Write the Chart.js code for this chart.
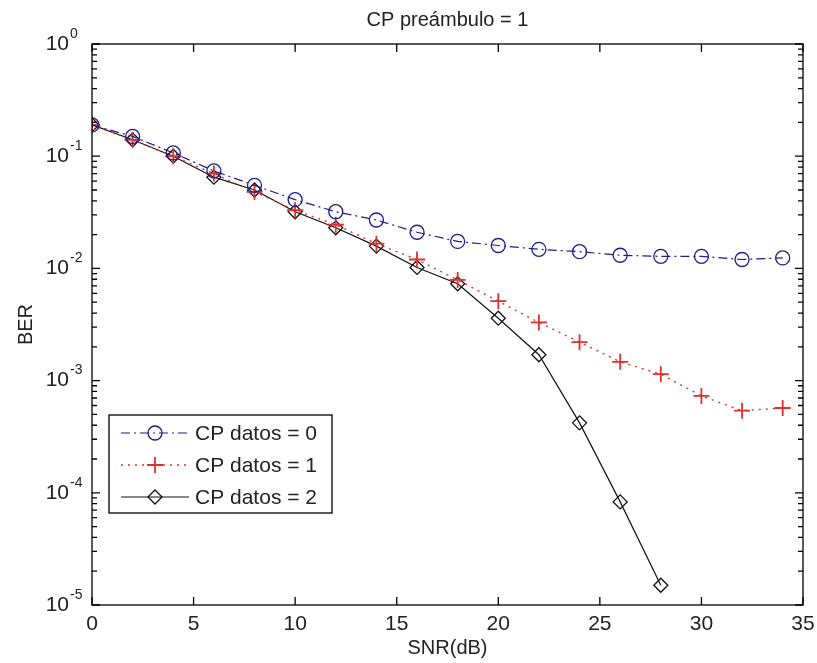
<!DOCTYPE html>
<html>
<head>
<meta charset="utf-8">
<script src="https://cdn.jsdelivr.net/npm/chart.js@4"></script>
<style>
  body { margin: 0; background: #fff; }
  #wrap { width: 817px; height: 663px; }
</style>
</head>
<body>
<div id="wrap"><canvas id="berChart"></canvas></div>
<script>
const snr = [0, 2, 4, 6, 8, 10, 12, 14, 16, 18, 20, 22, 24, 26, 28, 30, 32, 34];
const berCp0 = [0.19, 0.15, 0.107, 0.074, 0.055, 0.041, 0.032, 0.027, 0.021, 0.0174, 0.016, 0.0148, 0.0141, 0.0131, 0.0128, 0.0128, 0.0120, 0.0124];
const berCp1 = [0.19, 0.14, 0.10, 0.070, 0.048, 0.033, 0.0245, 0.0166, 0.012, 0.0079, 0.0051, 0.0033, 0.0022, 0.00147, 0.00114, 0.00073, 0.00054, 0.00057];
const berCp2 = [0.19, 0.14, 0.10, 0.065, 0.050, 0.032, 0.023, 0.0158, 0.0102, 0.0073, 0.0036, 0.0017, 0.00042, 0.000083, 0.000015];
const xTicks = [0, 5, 10, 15, 20, 25, 30, 35];
const yExps = [0, -1, -2, -3, -4, -5];
const legendLabels = ["CP datos = 0", "CP datos = 1", "CP datos = 2"];

const font = "Liberation Sans, Arial, sans-serif";

function pts(ys) {
  return ys.map((y, i) => ({ x: snr[i], y: y }));
}

// MATLAB-like box, inward ticks, labels and legend
const matlabAxes = {
  id: "matlabAxes",
  afterDraw(chart) {
    const ctx = chart.ctx;
    const xs = chart.scales.x, ys = chart.scales.y;
    const a = chart.chartArea;
    ctx.save();
    ctx.strokeStyle = "#000";
    ctx.lineWidth = 1.3;
    ctx.strokeRect(a.left, a.top, a.right - a.left, a.bottom - a.top);

    // x ticks
    ctx.beginPath();
    xTicks.forEach(v => {
      const px = xs.getPixelForValue(v);
      ctx.moveTo(px, a.bottom); ctx.lineTo(px, a.bottom - 8);
      ctx.moveTo(px, a.top); ctx.lineTo(px, a.top + 8);
    });
    // y ticks (major + minor)
    yExps.forEach(e => {
      const py = ys.getPixelForValue(Math.pow(10, e));
      ctx.moveTo(a.left, py); ctx.lineTo(a.left + 8, py);
      ctx.moveTo(a.right, py); ctx.lineTo(a.right - 8, py);
      if (e > -5) {
        for (let m = 2; m <= 9; m++) {
          const pm = ys.getPixelForValue(m * Math.pow(10, e - 1));
          ctx.moveTo(a.left, pm); ctx.lineTo(a.left + 5, pm);
          ctx.moveTo(a.right, pm); ctx.lineTo(a.right - 5, pm);
        }
      }
    });
    ctx.stroke();

    ctx.fillStyle = "#222";
    ctx.font = "21px " + font;
    ctx.textAlign = "center";
    ctx.textBaseline = "middle";
    xTicks.forEach(v => {
      ctx.fillText(String(v), xs.getPixelForValue(v), a.bottom + 19);
    });

    yExps.forEach(e => {
      const py = ys.getPixelForValue(Math.pow(10, e));
      ctx.font = "21px " + font;
      ctx.textAlign = "right";
      ctx.fillText("10", a.left - 23, py);
      ctx.font = "14px " + font;
      ctx.textAlign = "left";
      ctx.fillText(e === 0 ? "0" : "-" + (-e), a.left - 22, py - 10);
    });

    ctx.font = "20px " + font;
    ctx.textAlign = "center";
    ctx.fillText("CP preámbulo = 1", (a.left + a.right) / 2, 20);
    ctx.fillText("SNR(dB)", (a.left + a.right) / 2, 648);
    ctx.save();
    ctx.translate(26, (a.top + a.bottom) / 2);
    ctx.rotate(-Math.PI / 2);
    ctx.fillText("BER", 0, 0);
    ctx.restore();

    // legend
    const lx = 109, ly = 415, lw = 223, lh = 98;
    ctx.fillStyle = "#fff";
    ctx.fillRect(lx, ly, lw, lh);
    ctx.lineWidth = 1.3;
    ctx.strokeStyle = "#000";
    ctx.strokeRect(lx, ly, lw, lh);
    chart.data.datasets.forEach((ds, i) => {
      const cy = ly + 18 + i * 32;
      ctx.save();
      ctx.strokeStyle = ds.borderColor;
      ctx.lineWidth = ds.borderWidth;
      ctx.setLineDash(ds.borderDash || []);
      ctx.beginPath();
      ctx.moveTo(lx + 12, cy); ctx.lineTo(lx + 80, cy);
      ctx.stroke();
      ctx.setLineDash([]);
      ctx.strokeStyle = ds.pointBorderColor;
      ctx.fillStyle = "rgba(0,0,0,0)";
      ctx.lineWidth = ds.pointBorderWidth;
      Chart.helpers.drawPoint(ctx, {
        pointStyle: ds.pointStyle, radius: ds.pointRadius, borderWidth: ds.pointBorderWidth
      }, lx + 46, cy);
      ctx.restore();
      ctx.fillStyle = "#222";
      ctx.font = "21px " + font;
      ctx.textAlign = "left";
      ctx.fillText(legendLabels[i], lx + 86, cy + 1);
    });
    ctx.restore();
  }
};

new Chart(document.getElementById("berChart"), {
  type: "line",
  data: {
    datasets: [
      {
        label: legendLabels[0], data: pts(berCp0),
        borderColor: "#1c1c8a", borderWidth: 1.2, borderDash: [9, 4, 2, 4],
        pointStyle: "circle", pointRadius: 7, pointBorderWidth: 1.3,
        pointBorderColor: "#1c1c8a", pointBackgroundColor: "rgba(0,0,0,0)"
      },
      {
        label: legendLabels[1], data: pts(berCp1),
        borderColor: "#e0302f", borderWidth: 1.4, borderDash: [2, 5],
        pointStyle: "cross", pointRadius: 8, pointBorderWidth: 1.8,
        pointBorderColor: "#e0302f", pointBackgroundColor: "rgba(0,0,0,0)"
      },
      {
        label: legendLabels[2], data: pts(berCp2),
        borderColor: "#111", borderWidth: 1.2,
        pointStyle: "rectRot", pointRadius: 7, pointBorderWidth: 1.3,
        pointBorderColor: "#111", pointBackgroundColor: "rgba(0,0,0,0)"
      }
    ]
  },
  options: {
    responsive: true,
    maintainAspectRatio: false,
    animation: false,
    layout: { padding: { top: 44, right: 14, left: 0, bottom: 0 } },
    plugins: { legend: { display: false }, title: { display: false }, tooltip: { enabled: false } },
    scales: {
      x: {
        type: "linear", min: 0, max: 35,
        grid: { display: false }, border: { display: false },
        ticks: { display: false },
        afterFit: s => { s.height = 58; }
      },
      y: {
        type: "logarithmic", min: 1e-5, max: 1,
        grid: { display: false }, border: { display: false },
        ticks: { display: false },
        afterFit: s => { s.width = 92; }
      }
    }
  },
  plugins: [matlabAxes]
});
</script>
</body>
</html>
